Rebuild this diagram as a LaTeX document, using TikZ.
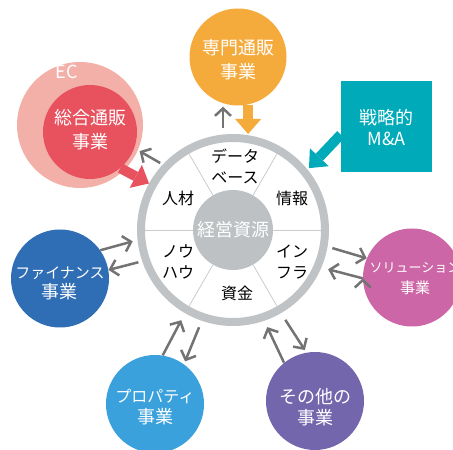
\documentclass[tikz,border=0pt]{standalone}
\usepackage{fontspec}
\setmainfont{Noto Sans CJK JP}
\usetikzlibrary{arrows.meta,positioning}
\definecolor{ringgray}{HTML}{BFC3C5}
\definecolor{coregray}{HTML}{BDC1C3}
\definecolor{divgray}{HTML}{C8CBCD}
\definecolor{flowgray}{HTML}{737373}
\definecolor{senorange}{HTML}{F5AA3C}
\definecolor{ecpink}{HTML}{F3B0A8}
\definecolor{sogored}{HTML}{E8525F}
\definecolor{mateal}{HTML}{00AAB8}
\definecolor{finblue}{HTML}{2F6DB5}
\definecolor{propblue}{HTML}{3AA1DC}
\definecolor{otherpurple}{HTML}{7466AD}
\definecolor{solpink}{HTML}{CC66A6}

\begin{document}
\begin{tikzpicture}[x=1pt,y=1pt,
  biz/.style={circle,inner sep=0pt,minimum size=98pt},
  bizlbl/.style={text=white,align=center,font=\fontsize{18}{21}\selectfont},
  seg/.style={align=center,font=\fontsize{16}{21}\selectfont},
  flow/.style={draw=flowgray,line width=2.5pt,-{Straight Barb[length=7.5pt,width=16pt]}},
  fat/.style={line width=10pt,-{Triangle[length=15pt,width=26pt,line width=0pt]}},
  divider/.style={draw=divgray,line width=0.8pt,shorten >=8pt}]
  \useasboundingbox (0,0) rectangle (453,450);
  \node[circle,draw=ringgray,line width=8pt,minimum size=184pt,inner sep=0pt](ring) at (233,220){};
  \node[circle,fill=coregray,minimum size=80pt,inner sep=0pt](core) at (233,220){};
  \foreach \a in {0,60,...,300}
    \draw[divider] (core.\a) -- (ring.\a);
  \node[text=white,font=\fontsize{18}{21}\selectfont](core_t) at (core){経営資源};
  \node[seg](jinzai) at (178,252){人材};
  \node[seg](joho) at (292,252){情報};
  \node[seg](db) at (235,283.5){データ\\ベース};
  \node[seg](knowhow) at (178,188){ノウ\\ハウ};
  \node[seg](infra) at (292,188){イン\\フラ};
  \node[seg](shikin) at (237,157){資金};

  \node[biz,fill=senorange,minimum size=97pt](sen) at (238,393){};
  \node[bizlbl,font=\fontsize{18}{24}\selectfont](sen_t) at (238,390){専門通販\\事業};
  \node[circle,fill=ecpink,minimum size=126pt,inner sep=0pt](ec) at (80,325){};
  \node[text=white,font=\fontsize{18}{21}\selectfont](ec_t) at (67,378){EC};
  \node[biz,fill=sogored,minimum size=94pt](sogo) at (90,318){};
  \node[bizlbl,font=\fontsize{18}{24}\selectfont](sogo_t) at (90,320){総合通販\\事業};
  \node[fill=mateal,minimum size=91pt,inner sep=0pt](ma) at (386.5,323.5){};
  \node[bizlbl](ma_t) at (386.5,322.5){戦略的\\M\&A};
  \node[biz,fill=finblue](fin) at (60,171.5){};
  \node[bizlbl,font=\fontsize{18}{20}\selectfont](fin_t) at (60,167){{\fontsize{15}{20}\selectfont ファイナンス}\\事業};
  \node[biz,fill=solpink](sol) at (412,172.5){};
  \node[bizlbl,font=\fontsize{15}{21}\selectfont](sol_t) at (415,171){{\fontsize{13}{21}\selectfont ソリューション}\\事業};
  \node[biz,fill=propblue](prop) at (155,46){};
  \node[bizlbl](prop_t) at (155,42.5){{\fontsize{16}{21}\selectfont プロパティ}\\事業};
  \node[biz,fill=otherpurple](other) at (315,49){};
  \node[bizlbl](other_t) at (315,42.5){その他の\\事業};

  \path[flow]
    (ring.137) edge[shorten <=3pt,shorten >=6pt] (sogo.340)
    (ring.96) edge[shorten <=7pt,shorten >=1pt] (ring.96 |- sen.south)
    (fin.35) edge[shorten >=5pt] (ring.186)
    (ring.199) edge[shorten <=4pt] (fin.10)
    (prop.81) edge[shorten >=8pt] (ring.240)
    (ring.251) edge[shorten <=7pt,shorten >=3pt] (prop.54)
    (ring.300) edge[shorten <=8pt,shorten >=3pt] (other.100)
    (other.129) edge[shorten >=7pt] (ring.289)
    (ring.350) edge[shorten <=5pt] (sol.157)
    (sol.181) edge[shorten >=7pt] (ring.337);
  \draw[fat,sogored] (sogo.310) -- (ring.151);
  \draw[fat,senorange] (sen.282) -- (sen.282 |- ring.north);
  \draw[fat,mateal,shorten >=2pt] (ma.190) -- (ring.39);
\end{tikzpicture}
\end{document}
